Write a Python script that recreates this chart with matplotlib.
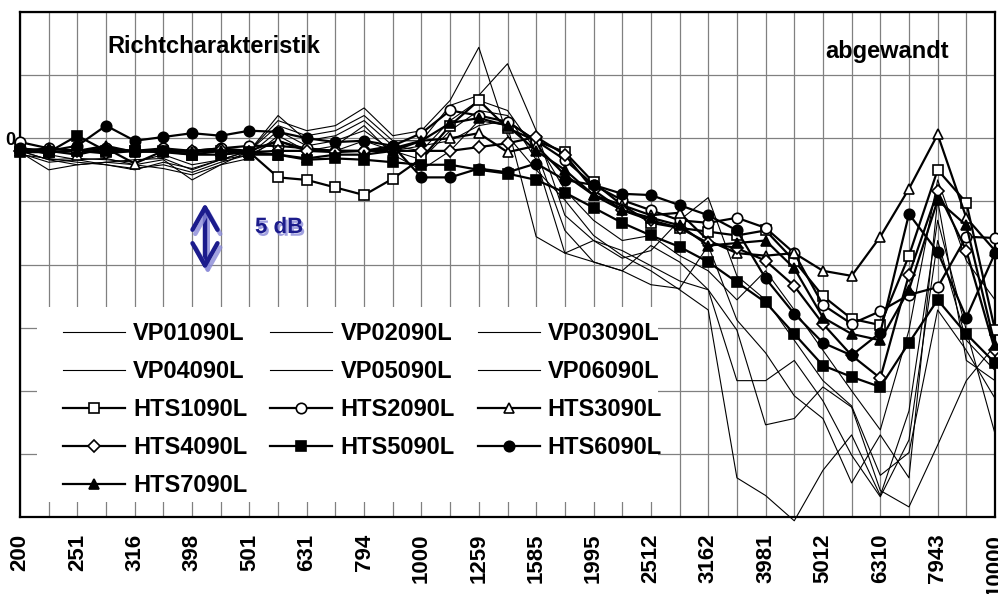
import matplotlib
matplotlib.use('Agg')
import matplotlib.pyplot as plt
import matplotlib.patheffects as pe
from matplotlib.patches import Rectangle
from matplotlib.font_manager import FontProperties

freqs = [200, 224, 251, 282, 316, 355, 398, 447, 501, 562, 631, 708, 794, 891,
         1000, 1122, 1259, 1413, 1585, 1778, 1995, 2239, 2512, 2818, 3162, 3548,
         3981, 4467, 5012, 5623, 6310, 7079, 7943, 8913, 10000]
shown_labels = ['200', '251', '316', '398', '501', '631', '794', '1000', '1259',
                '1585', '1995', '2512', '3162', '3981', '5012', '6310', '7943', '10000']

VP01090L = [-1.0, -1.7, -1.6, -1.7, -1.9, -1.3, -2.1, -1.7, -1.0, 1.4, 0.6, 1.0, 2.4, 0.2,
            0.6, 3.0, 7.2, 0.2, -2.5, -4.9, -7.7, -9.3, -10.5, -12.0, -13.6, -26.9, -28.3,
            -30.3, -26.3, -23.5, -28.3, -21.6, -6.5, -15.2, -23.4]
VP02090L = [-0.8, -1.3, -1.7, -1.6, -2.1, -1.7, -3.3, -2.1, -1.0, 1.0, 0.2, 0.6, 1.8, -0.2,
            -0.2, 2.6, 3.4, 5.9, 0.6, -6.1, -8.1, -8.9, -10.1, -11.3, -12.0, -15.2, -22.7,
            -22.2, -19.7, -21.3, -27.9, -29.2, -24.3, -19.2, -16.4]
VP03090L = [-1.1, -2.5, -2.1, -1.9, -1.7, -1.6, -2.5, -1.7, -1.0, 1.8, -0.2, 0.2, 1.4, -0.6,
            -1.0, 1.4, 3.0, 2.2, -1.0, -7.3, -9.8, -10.5, -11.6, -11.9, -8.5, -14.4, -17.0,
            -20.4, -22.2, -27.3, -23.5, -26.9, -4.9, -17.6, -19.2]
VP04090L = [-1.3, -1.6, -1.9, -2.1, -2.4, -2.1, -2.7, -1.9, -1.3, 0.6, -0.6, -0.2, 0.6, -1.0,
            -1.7, 0.6, 2.2, 1.8, -1.7, -9.1, -8.1, -9.5, -8.9, -6.5, -4.7, -10.9, -12.8,
            -16.0, -19.2, -21.2, -26.7, -24.9, -13.6, -16.8, -20.6]
VP05090L = [-1.0, -1.7, -2.1, -1.9, -2.1, -2.4, -2.9, -2.1, -1.6, 0.2, -1.0, -0.6, 1.0, -1.3,
            -2.5, -1.0, 1.4, 1.0, -7.8, -9.1, -9.8, -10.5, -8.5, -9.8, -12.0, -19.2, -19.2,
            -17.6, -20.8, -25.1, -28.4, -23.9, -8.1, -16.0, -18.4]
VP06090L = [-1.2, -1.9, -1.7, -2.1, -2.5, -1.9, -2.4, -1.7, -1.3, -0.2, -0.8, -1.0, -0.2, -1.0,
            -0.6, -0.2, 1.0, 1.4, -0.2, -4.1, -6.5, -8.1, -7.7, -9.3, -10.5, -12.8, -10.5,
            -13.6, -16.8, -20.0, -23.1, -15.2, -3.3, -9.7, -12.8]

HTS1090L = [-0.8, -1.1, -1.0, -1.1, -1.0, -1.1, -1.3, -1.0, -1.1, -3.1, -3.3, -3.9, -4.5, -3.2,
            -1.6, 1.0, 3.0, 0.8, -0.2, -1.1, -3.5, -5.3, -6.7, -7.1, -7.4, -7.7, -7.3,
            -9.7, -12.5, -14.3, -14.8, -9.3, -2.5, -5.1, -15.2]
HTS2090L = [-0.3, -0.8, -1.0, -0.8, -1.0, -0.8, -1.0, -0.8, -0.6, -0.6, -0.8, -1.0, -1.0, -0.6,
            0.4, 2.2, 1.8, 1.3, -0.2, -1.7, -3.7, -4.9, -5.7, -6.5, -6.7, -6.3, -7.1,
            -9.1, -13.2, -14.7, -13.7, -12.4, -11.8, -7.8, -7.9]
HTS3090L = [-1.0, -1.0, -1.3, -0.8, -2.0, -1.0, -1.0, -0.8, -1.0, -0.2, -1.0, -1.0, -1.0, -0.8,
            -0.2, 0.0, 0.4, -1.1, -0.6, -2.9, -4.5, -5.3, -6.1, -5.9, -8.1, -9.1, -9.3,
            -9.1, -10.5, -10.9, -7.8, -4.0, 0.3, -6.3, -8.9]
HTS4090L = [-1.0, -1.1, -1.0, -1.2, -1.0, -1.1, -1.0, -0.9, -1.1, -1.0, -1.0, -1.1, -1.0, -1.0,
            -1.0, -1.0, -0.7, -0.4, 0.1, -1.3, -4.1, -5.7, -6.5, -7.1, -8.3, -8.7, -9.7,
            -11.7, -14.7, -17.2, -19.0, -10.8, -4.2, -8.9, -16.8]
HTS5090L = [-1.1, -1.1, 0.2, -1.0, -1.0, -1.0, -1.3, -1.3, -1.1, -1.3, -1.7, -1.6, -1.7, -1.9,
            -2.1, -2.1, -2.5, -2.8, -3.3, -4.3, -5.5, -6.7, -7.7, -8.6, -9.8, -11.4, -13.0,
            -15.5, -18.0, -18.9, -19.7, -16.2, -12.8, -15.5, -17.8]
HTS6090L = [-0.8, -1.0, -0.6, 1.0, -0.2, 0.1, 0.4, 0.2, 0.6, 0.5, 0.0, -0.3, -0.2, -0.6,
            -3.1, -3.1, -2.4, -2.7, -2.0, -3.3, -3.7, -4.4, -4.5, -5.3, -6.1, -7.3, -11.1,
            -13.9, -16.2, -17.2, -15.4, -6.0, -9.0, -14.2, -9.1]
HTS7090L = [-1.0, -0.8, -1.0, -0.6, -1.1, -1.0, -1.1, -1.0, -1.3, -1.3, -1.6, -1.3, -1.3, -1.0,
            -0.2, 1.2, 1.6, 1.0, -1.0, -2.5, -4.5, -5.7, -6.3, -6.9, -8.5, -8.3, -8.1,
            -10.3, -14.2, -15.5, -16.0, -12.0, -4.9, -6.9, -16.4]

vp_series = [('VP01090L', VP01090L), ('VP02090L', VP02090L), ('VP03090L', VP03090L),
             ('VP04090L', VP04090L), ('VP05090L', VP05090L), ('VP06090L', VP06090L)]
hts_series = [('HTS1090L', HTS1090L, 's', 'white'), ('HTS2090L', HTS2090L, 'o', 'white'),
              ('HTS3090L', HTS3090L, '^', 'white'), ('HTS4090L', HTS4090L, 'D', 'white'),
              ('HTS5090L', HTS5090L, 's', 'black'), ('HTS6090L', HTS6090L, 'o', 'black'),
              ('HTS7090L', HTS7090L, '^', 'black')]

FONT = 'Liberation Sans'
plt.rcParams['font.family'] = [FONT, 'DejaVu Sans']

fig = plt.figure(figsize=(9.98, 5.94), dpi=100)
ax = fig.add_axes([20 / 998, 77 / 594, 975 / 998, 505 / 594])

x = list(range(len(freqs)))
handles = {}
for name, vals in vp_series:
    ln, = ax.plot(x, vals, color='black', lw=0.8, clip_on=False, zorder=3, label=name)
    handles[name] = ln
for name, vals, mk, fc in hts_series:
    ms = 6.5 if mk == 'D' else 7.5
    ln, = ax.plot(x, vals, color='black', lw=1.6, marker=mk, ms=ms, mfc=fc, mec='black',
                  mew=1.2, clip_on=False, zorder=4, label=name)
    handles[name] = ln

ax.set_xlim(0, len(freqs) - 1)
ax.set_ylim(-30, 10)
ax.set_xticks(x)
lab_iter = iter(shown_labels)
ax.set_xticklabels([next(lab_iter) if i % 2 == 0 else '' for i in x],
                   rotation=90, fontsize=16, fontweight='bold')
yt = list(range(-30, 11, 5))
ax.set_yticks(yt)
ax.set_yticklabels(['0' if v == 0 else '' for v in yt], fontsize=13, fontweight='bold')
ax.tick_params(axis='x', length=0, pad=12)
ax.tick_params(axis='y', length=0, pad=3)
ax.set_axisbelow(True)
ax.grid(True, color='#808080', lw=0.9)
for s in ax.spines.values():
    s.set_linewidth(1.6)
    s.set_color('black')

# white legend background covering the grid
ax.add_patch(Rectangle((17 / 975, 15 / 505), 621 / 975, 195 / 505, transform=ax.transAxes,
                       facecolor='white', edgecolor='none', zorder=1))

order = ['VP01090L', 'VP04090L', 'HTS1090L', 'HTS4090L', 'HTS7090L',
         'VP02090L', 'VP05090L', 'HTS2090L', 'HTS5090L',
         'VP03090L', 'VP06090L', 'HTS3090L', 'HTS6090L']
leg = ax.legend([handles[n] for n in order], order, ncol=3, loc='upper left',
                bbox_to_anchor=(43 / 975, 195 / 505), frameon=False,
                prop=FontProperties(family=FONT, weight='bold', size=17),
                handlelength=2.63, handletextpad=0.34, columnspacing=0.97,
                labelspacing=0.64, borderpad=0, borderaxespad=0)
leg.set_zorder(5)

ax.text(87 / 975, 464 / 505, 'Richtcharakteristik', transform=ax.transAxes,
        fontsize=17, fontweight='bold', ha='left', va='baseline', zorder=6)
ax.text(805 / 975, 459 / 505, 'abgewandt', transform=ax.transAxes,
        fontsize=17, fontweight='bold', ha='left', va='baseline', zorder=6)

navy = '#1c1c8c'
ax.text(235 / 975, 284 / 505, '5 dB', transform=ax.transAxes, fontsize=16,
        fontweight='bold', color=navy, ha='left', va='baseline', zorder=6,
        path_effects=[pe.withSimplePatchShadow(offset=(1.5, -2), shadow_rgbFace='#8a8ad8',
                                               alpha=0.8)])
ax.annotate('', xy=(185 / 975, 314 / 505), xytext=(185 / 975, 247 / 505),
            xycoords='axes fraction', textcoords='axes fraction', zorder=6,
            arrowprops=dict(arrowstyle='<->,head_length=0.8,head_width=0.45',
                            mutation_scale=20, lw=3.2, color=navy,
                            shrinkA=0, shrinkB=0,
                            path_effects=[pe.SimpleLineShadow(offset=(2, -3),
                                                              shadow_color='#8a8ad8',
                                                              alpha=0.8),
                                          pe.Normal()]))

fig.savefig('out.png', dpi=100)
